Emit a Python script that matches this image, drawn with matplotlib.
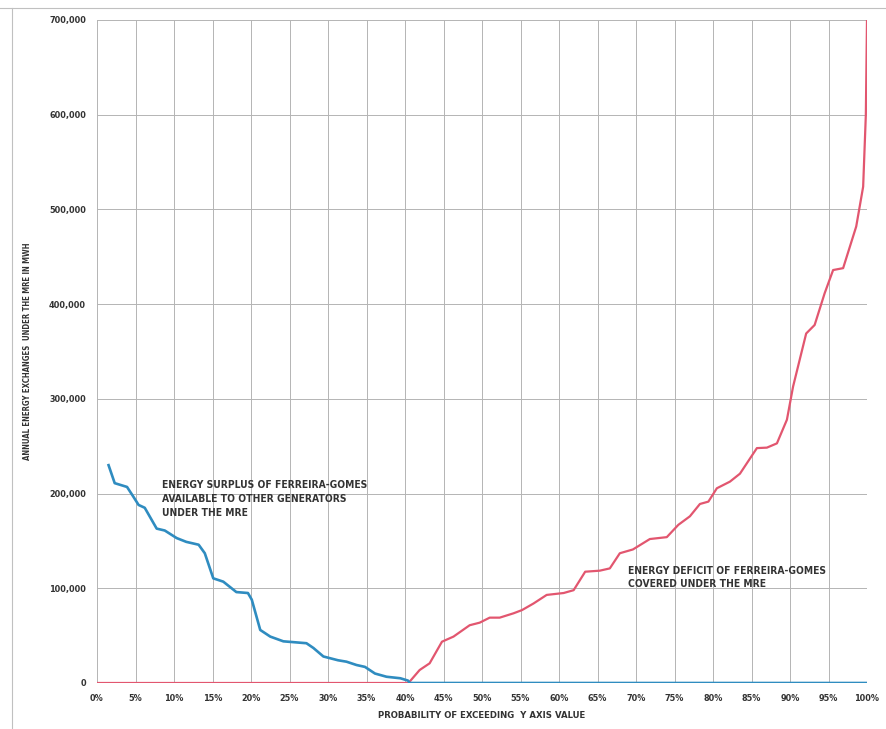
from matplotlib import pyplot as plt
from matplotlib.ticker import FuncFormatter, MultipleLocator
import numpy as np

# probability of exceeding (%) and annual energy (MWh)
surplus_x = [1.5, 2.3, 3.9, 4.7, 5.4, 6.2, 7.75, 8.8, 10.35, 11.6, 13.2, 14.0, 15.1, 16.4,
             18.1, 19.6, 20.1, 21.2, 22.5, 24.2, 27.2, 28.1, 29.4, 31.3, 32.4, 33.7, 34.8,
             36.1, 37.6, 39.4, 40.4, 40.6, 100]
surplus_y = [230000, 211000, 207000, 197000, 188000, 185000, 163000, 161000, 153000, 149000,
             146000, 137000, 110500, 107000, 96000, 95000, 88000, 56000, 49000, 44000,
             42000, 37000, 28000, 24000, 22500, 19000, 17000, 10000, 6600, 5000, 2500, 0, 0]

deficit_x = [0, 40.4, 40.6, 41.9, 43.2, 44.8, 46.3, 48.4, 49.7, 51.0, 52.3, 54.1, 55.2, 56.7,
             58.4, 60.6, 61.9, 63.4, 65.3, 66.6, 67.9, 69.6, 71.8, 74.0, 75.5, 77.0, 78.3,
             79.4, 80.5, 82.2, 83.5, 85.7, 87.0, 88.3, 89.6, 90.4, 92.1, 93.2, 94.5, 95.6,
             96.9, 98.6, 99.5, 99.85, 100]
deficit_y = [0, 0, 1400, 13700, 20800, 43600, 49000, 61000, 63700, 69000, 69000, 73600, 77000,
             84000, 93000, 95000, 98000, 117500, 118600, 121000, 137000, 141000, 152000,
             154000, 167000, 176000, 189000, 191500, 205600, 212600, 221000, 248000, 248500,
             253000, 278000, 313000, 369000, 378000, 411500, 436000, 438000, 482000, 524000,
             600000, 700000]

surplus_note = "ENERGY SURPLUS OF FERREIRA-GOMES\nAVAILABLE TO OTHER GENERATORS\nUNDER THE MRE"
deficit_note = "ENERGY DEFICIT OF FERREIRA-GOMES\nCOVERED UNDER THE MRE"

fig = plt.figure(figsize=(8.86, 7.29), dpi=100)
ax = fig.add_axes([97/886, 1 - 683/729, 770/886, 663/729])

ax.plot(deficit_x, deficit_y, color='#e2566f', lw=1.6, zorder=3)
ax.plot(surplus_x, surplus_y, color='#2f8cc0', lw=1.9, zorder=4)

ax.set_xlim(0, 100)
ax.set_ylim(0, 700000)
ax.xaxis.set_major_locator(MultipleLocator(5))
ax.yaxis.set_major_locator(MultipleLocator(100000))
ax.xaxis.set_major_formatter(FuncFormatter(lambda v, p: f"{v:.0f}%"))
ax.yaxis.set_major_formatter(FuncFormatter(lambda v, p: f"{v:,.0f}"))
ax.grid(True, color='#b4b4b4', lw=0.7)
ax.set_axisbelow(True)
for s in ax.spines.values():
    s.set_visible(False)
ax.tick_params(length=0, pad=8, labelsize=6.5, labelcolor='#333333')
for lab in ax.get_xticklabels() + ax.get_yticklabels():
    lab.set_fontweight('bold')
    lab.set_fontstretch('condensed')

ax.set_xlabel("PROBABILITY OF EXCEEDING  Y AXIS VALUE", fontsize=6.8, fontweight='bold',
              fontstretch='condensed', color='#333333', labelpad=6)
ax.set_ylabel("ANNUAL ENERGY EXCHANGES  UNDER THE MRE IN MWH", fontsize=5.6, fontweight='bold',
              fontstretch='condensed', color='#333333', labelpad=12)

ax.text(8.5, 214000, surplus_note, fontsize=7.4, fontweight='bold', fontstretch='condensed',
        color='#333333', va='top', linespacing=1.45)
ax.text(69.0, 124000, deficit_note, fontsize=7.4, fontweight='bold', fontstretch='condensed',
        color='#333333', va='top', linespacing=1.45)

# outer frame of the pasted chart
fig.add_artist(plt.Line2D([0, 1], [1 - 8/729, 1 - 8/729], color='#c0c0c0', lw=0.8))
fig.add_artist(plt.Line2D([12/886, 12/886], [0, 1 - 8/729], color='#c0c0c0', lw=0.8))

plt.savefig('out.png', dpi=100)
